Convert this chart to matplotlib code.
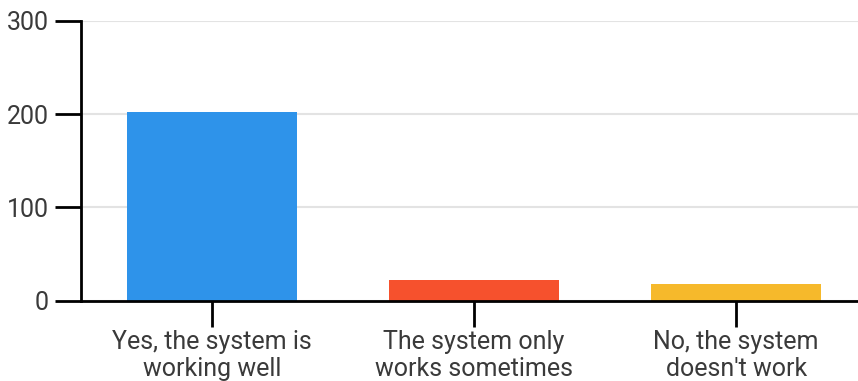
import matplotlib.pyplot as plt

categories = ["Yes, the system is\nworking well",
              "The system only\nworks sometimes",
              "No, the system\ndoesn't work"]
counts = [202, 22, 18]
colors = ["#2e93ea", "#f6512d", "#f6b92b"]

plt.rcParams['font.family'] = ['Roboto', 'DejaVu Sans']

fig = plt.figure(figsize=(8.58, 3.81), dpi=100)
ax = fig.add_axes([81 / 858, 1 - 300.5 / 381, 1 - 81 / 858, 279.5 / 381])

x = list(range(len(categories)))
ax.bar(x, counts, width=0.65, color=colors, zorder=3)

ax.set_xlim(-0.5, 2.465)
ax.set_ylim(0, 300)
ax.set_yticks([0, 100, 200, 300])
ax.set_xticks(x)
ax.set_xticklabels(categories)

ax.grid(axis='y', color='#e3e3e3', linewidth=1.5, zorder=0)
for side in ('top', 'right'):
    ax.spines[side].set_visible(False)
for side in ('left', 'bottom'):
    ax.spines[side].set_linewidth(2)
    ax.spines[side].set_color('black')
    ax.spines[side].set_zorder(4)
ax.spines['left'].set_bounds(0, 300)

ax.tick_params(axis='both', length=19, width=2, color='black',
               labelsize=18, labelcolor='#3a3a3a')
ax.tick_params(axis='x', pad=2)
ax.tick_params(axis='y', pad=4)
for lbl in ax.get_xticklabels():
    lbl.set_linespacing(1.15)

fig.savefig("out.png", dpi=100)
